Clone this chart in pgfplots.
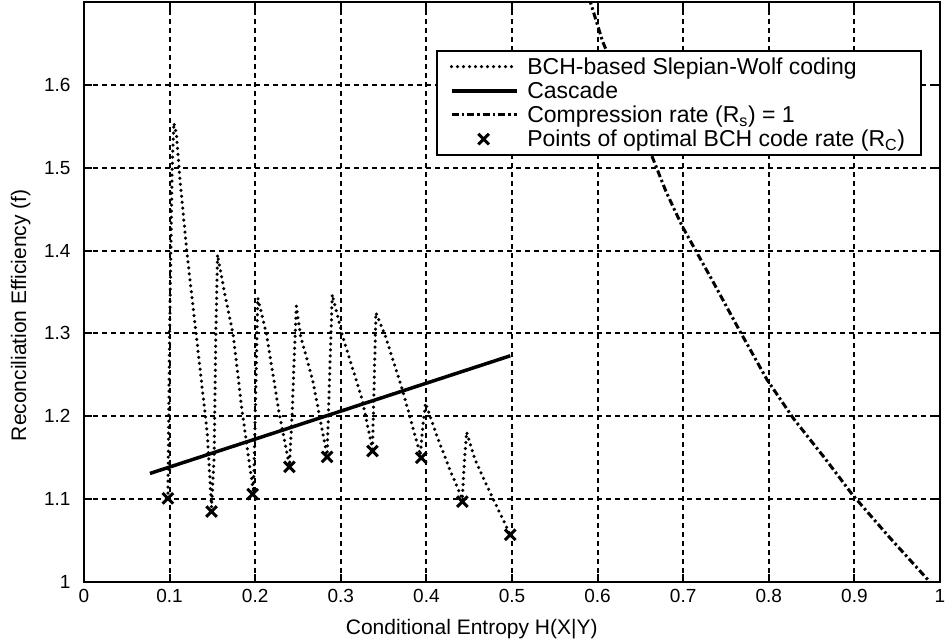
\documentclass[border=0pt]{standalone}
\usepackage{pgfplots}
\pgfplotsset{compat=1.18}
\usepackage{fontspec}
\setmainfont{Liberation Sans}
\pgfplotsset{
  linelegend/.style={legend image code/.code={\draw[##1] (0pt,0pt) -- (65pt,0pt);}},
  marklegend/.style={legend image code/.code={\draw[##1] plot coordinates {(32pt,0pt)};}},
}
\begin{document}
\begin{tikzpicture}
\begin{axis}[
  scale only axis,
  width=856pt, height=580pt,
  xmin=0, xmax=1, ymin=1, ymax=1.7,
  xtick={0,0.1,0.2,0.3,0.4,0.5,0.6,0.7,0.8,0.9,1},
  ytick={1,1.1,1.2,1.3,1.4,1.5,1.6},
  xticklabels={0,0.1,0.2,0.3,0.4,0.5,0.6,0.7,0.8,0.9,1},
  yticklabels={1,1.1,1.2,1.3,1.4,1.5,1.6},
  tick align=inside,
  major tick length=8pt,
  tick style={line width=2pt, black},
  axis line style={line width=2.5pt},
  grid=major,
  major grid style={line width=2pt, black, dash pattern=on 5pt off 4pt},
  /pgf/number format/assume math mode=true,
  ticklabel style={font=\fontsize{19}{21}\selectfont},
  yticklabel style={xshift=-10pt},
  xticklabel style={yshift=-4pt},
  xlabel={Conditional Entropy H(X|Y)},
  ylabel={Reconciliation Efficiency (f)},
  label style={font=\fontsize{21}{24}\selectfont},
  xlabel style={at={(axis description cs:0.453,0)}, anchor=north, yshift=-34pt},
  ylabel style={at={(axis description cs:0,0.46)}, anchor=south, yshift=50pt},
  legend style={at={(axis description cs:0.411,0.918)}, anchor=north west,
    draw=black, line width=2pt, fill=white,
    font=\fontsize{23}{25}\selectfont,
    nodes={inner sep=3pt, anchor=west},
    column sep=6pt,
    inner xsep=13pt, inner ysep=4pt},
  legend cell align=left,
  clip=true,
]
\addplot[linelegend, black, line width=3.5pt, line cap=round, dash pattern=on 0pt off 6pt] coordinates {
(0.098,1.100)(0.100,1.300)(0.103,1.500)(0.105,1.554)(0.108,1.540)(0.112,1.487)
(0.120,1.400)(0.132,1.290)(0.144,1.180)(0.149,1.090)(0.152,1.150)(0.154,1.300)
(0.156,1.395)(0.165,1.345)(0.174,1.300)(0.185,1.204)(0.195,1.130)(0.198,1.108)
(0.200,1.200)(0.203,1.343)(0.213,1.300)(0.228,1.204)(0.240,1.140)(0.243,1.200)
(0.248,1.333)(0.253,1.297)(0.267,1.244)(0.284,1.153)(0.287,1.250)(0.290,1.347)
(0.302,1.297)(0.325,1.220)(0.337,1.160)(0.339,1.240)(0.341,1.325)(0.352,1.297)
(0.372,1.232)(0.393,1.153)(0.396,1.190)(0.399,1.216)(0.411,1.180)(0.426,1.139)
(0.442,1.100)(0.444,1.140)(0.447,1.181)(0.457,1.147)(0.473,1.111)(0.498,1.057)
};
\addlegendentry{BCH-based Slepian-Wolf coding}
\addplot[linelegend, black, line width=3.5pt] coordinates {(0.077,1.131)(0.498,1.273)};
\addlegendentry{Cascade}
\addplot[linelegend, black, line width=3pt, dash pattern=on 7pt off 3pt on 2.5pt off 3pt] coordinates {
(0.590,1.705)(0.606,1.652)(0.625,1.605)(0.645,1.560)(0.665,1.510)(0.680,1.471)
(0.699,1.429)(0.734,1.364)(0.765,1.305)(0.798,1.244)(0.829,1.197)(0.865,1.150)
(0.898,1.105)(0.940,1.055)(0.990,0.998)(1.000,0.990)
};
\addlegendentry{Compression rate (R\textsubscript{s}) = 1}
\addplot[marklegend, black, only marks, mark=x, mark size=7.5pt, line width=3pt] coordinates {
(0.098,1.101)(0.149,1.085)(0.197,1.106)(0.240,1.139)(0.284,1.151)
(0.337,1.158)(0.394,1.150)(0.442,1.097)(0.498,1.057)
};
\addlegendentry{Points of optimal BCH code rate (R\textsubscript{C})}
\end{axis}
\pgfresetboundingbox
\path[use as bounding box] (-84pt,-62pt) rectangle (864pt,582pt);
\end{tikzpicture}
\end{document}
